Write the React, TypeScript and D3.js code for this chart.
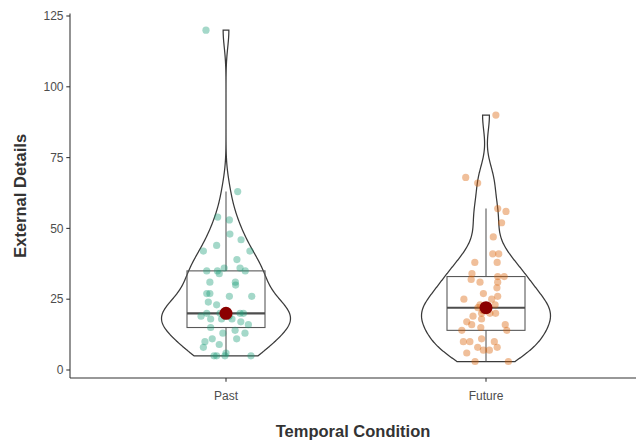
import React from 'react';
import * as d3 from 'd3';

const categories = ['Past', 'Future'];

const pastValues = [120, 63, 54, 53, 48, 46, 44, 42, 42, 39, 36, 36, 35, 35, 35, 34, 31, 31, 30, 27, 27, 26, 26, 24, 23, 19, 20, 18, 20, 20, 17, 16, 18, 15, 14, 13, 11, 11, 10, 9, 8, 5, 6, 5, 5, 20, 19, 20, 18, 20, 19, 5, 13];
const pastJitter = [-0.077, 0.045, -0.032, 0.013, 0.015, 0.058, -0.036, -0.087, 0.092, 0.042, -0.007, 0.054, -0.074, -0.033, 0.074, -0.026, -0.062, 0.036, 0.037, -0.074, -0.062, 0.013, 0.099, -0.068, -0.036, -0.096, -0.074, -0.059, 0.054, 0.067, 0.057, 0.086, -0.017, -0.059, 0.035, 0.073, 0.041, -0.053, -0.081, -0.026, -0.087, -0.036, 0, -0.004, 0.096, -0.008, 0.012, 0.004, 0.023, -0.023, -0.004, -0.046, -0.012];

const futureValues = [90, 68, 66, 57, 56, 52, 47, 41, 41, 38, 38, 34, 32, 33, 33, 31, 31, 29, 27, 26, 25, 25, 23, 23, 22, 19, 20, 20, 18, 17, 16, 15, 14, 16, 14, 10, 10, 11, 8, 10, 8, 7, 7, 6, 3, 3, 22, 21, 20];
const futureJitter = [0.038, -0.078, -0.032, 0.045, 0.077, 0.060, 0.028, 0.026, 0.049, -0.043, 0.043, -0.054, -0.057, 0.045, 0.070, -0.023, 0.045, 0.042, -0.010, 0.045, -0.085, 0.022, -0.023, 0.035, -0.031, -0.050, -0.017, 0.037, -0.017, -0.074, -0.055, -0.020, -0.093, 0.074, 0.080, -0.087, -0.062, -0.017, -0.032, 0.032, 0.043, -0.010, 0.013, -0.074, -0.042, 0.086, 0, -0.012, 0.015];

const groupValues = [pastValues, futureValues];
const groupJitter = [pastJitter, futureJitter];
const pointColors = ['#1B9E77', '#D95F02'];
const yTicks = [0, 25, 50, 75, 100, 125];

const W = 636;
const H = 445;

function sd(a: number[]) {
  const m = d3.mean(a)!;
  return Math.sqrt(d3.sum(a, (v) => (v - m) * (v - m)) / (a.length - 1));
}
function nrd0(a: number[]) {
  const s = [...a].sort((x, y) => x - y);
  const hi = sd(a);
  const iqr = d3.quantile(s, 0.75)! - d3.quantile(s, 0.25)!;
  let lo = Math.min(hi, iqr / 1.34);
  if (!lo) lo = hi || Math.abs(s[0]) || 1;
  return 0.9 * lo * Math.pow(a.length, -0.2);
}
function kde(a: number[]) {
  const bw = nrd0(a);
  const mn = d3.min(a)!;
  const mx = d3.max(a)!;
  const n = 512;
  const out: [number, number][] = [];
  for (let i = 0; i < n; i++) {
    const y = mn + ((mx - mn) * i) / (n - 1);
    let s = 0;
    for (const v of a) {
      const z = (y - v) / bw;
      s += Math.exp(-0.5 * z * z);
    }
    out.push([y, s / (a.length * bw * Math.sqrt(2 * Math.PI))]);
  }
  return out;
}
function boxStats(a: number[]) {
  const s = [...a].sort((x, y) => x - y);
  const q1 = d3.quantile(s, 0.25)!;
  const med = d3.quantile(s, 0.5)!;
  const q3 = d3.quantile(s, 0.75)!;
  const iqr = q3 - q1;
  const lo = d3.min(s.filter((v) => v >= q1 - 1.5 * iqr))!;
  const hi = d3.max(s.filter((v) => v <= q3 + 1.5 * iqr))!;
  return { q1, med, q3, lo, hi };
}

export default function App() {
  const x = d3.scalePoint<string>().domain(categories).range([226, 486]);
  const step = x.step();
  const y = d3.scaleLinear().domain([0, 125]).range([370, 16]);
  const all = groupValues.flat();
  const dmin = d3.min(all)!;
  const dmax = d3.max(all)!;
  const pad = (dmax - dmin) * 0.05;
  const panelTop = y(dmax + pad);
  const panelBottom = y(dmin - pad);
  const panelLeft = x(categories[0])! - 0.6 * step;
  const panelRight = x(categories[1])! + 0.6 * step;
  const violinHalf = 0.248 * step;
  const boxHalf = 0.15 * step;

  return (
    <svg width={W} height={H} style={{ position: 'absolute', left: 0, top: 0, background: '#fff' }} fontFamily="'Liberation Sans', Arial, sans-serif">
      <rect x={0} y={0} width={W} height={H} fill="#fff" />
      {categories.map((c, gi) => {
        const vals = groupValues[gi];
        const cx = x(c)!;
        const dens = kde(vals);
        const maxD = d3.max(dens, (d) => d[1])!;
        const left = dens.map((d) => [cx - (d[1] / maxD) * violinHalf, y(d[0])] as [number, number]);
        const right = dens.map((d) => [cx + (d[1] / maxD) * violinHalf, y(d[0])] as [number, number]).reverse();
        const path = d3.line()([...left, ...right]) + 'Z';
        const b = boxStats(vals);
        return (
          <g key={c}>
            <path d={path} fill="#fff" stroke="#3a3a3a" strokeWidth={1.25} />
            <line x1={cx} x2={cx} y1={y(b.q3)} y2={y(b.hi)} stroke="#595959" strokeWidth={1.1} />
            <line x1={cx} x2={cx} y1={y(b.q1)} y2={y(b.lo)} stroke="#595959" strokeWidth={1.1} />
            <rect x={cx - boxHalf} y={y(b.q3)} width={2 * boxHalf} height={y(b.q1) - y(b.q3)} fill="none" stroke="#595959" strokeWidth={1.1} />
            <line x1={cx - boxHalf} x2={cx + boxHalf} y1={y(b.med)} y2={y(b.med)} stroke="#4d4d4d" strokeWidth={2.1} />
            {vals.map((v, i) => (
              <circle key={i} cx={cx + groupJitter[gi][i] * step} cy={y(v)} r={3.6} fill={pointColors[gi]} fillOpacity={0.4} />
            ))}
            <circle cx={cx} cy={y(b.med)} r={6.5} fill="#8B0000" />
          </g>
        );
      })}
      <line x1={panelLeft} x2={panelLeft} y1={panelTop} y2={panelBottom} stroke="#333" strokeWidth={1.07} />
      <line x1={panelLeft} x2={panelRight} y1={panelBottom} y2={panelBottom} stroke="#333" strokeWidth={1.07} />
      {yTicks.map((t) => (
        <g key={t}>
          <line x1={panelLeft - 3.7} x2={panelLeft} y1={y(t)} y2={y(t)} stroke="#333" strokeWidth={1.07} />
          <text x={panelLeft - 6.5} y={y(t)} dy="0.35em" textAnchor="end" fontSize={12} fill="#4D4D4D">{t}</text>
        </g>
      ))}
      {categories.map((c) => (
        <g key={c}>
          <line x1={x(c)} x2={x(c)} y1={panelBottom} y2={panelBottom + 3.7} stroke="#333" strokeWidth={1.07} />
          <text x={x(c)} y={399.5} textAnchor="middle" fontSize={12} fill="#4D4D4D">{c}</text>
        </g>
      ))}
      <text x={(panelLeft + 636) / 2} y={437} textAnchor="middle" fontSize={16.5} fontWeight="bold" fill="#333">Temporal Condition</text>
      <text transform={`translate(26,${(panelTop + panelBottom) / 2}) rotate(-90)`} textAnchor="middle" fontSize={16.5} fontWeight="bold" fill="#333">External Details</text>
    </svg>
  );
}
